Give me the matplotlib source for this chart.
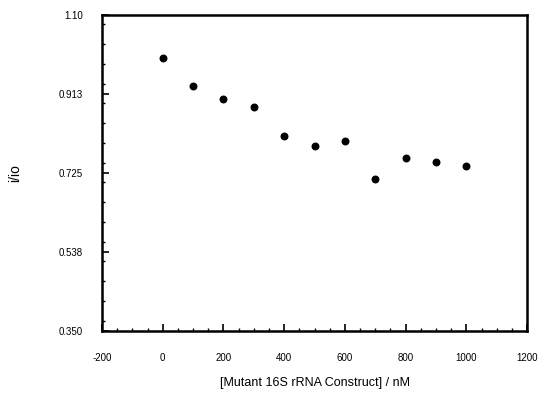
import numpy as np
import matplotlib
matplotlib.use("Agg")
from matplotlib import pyplot as plt
from matplotlib.ticker import MultipleLocator

# concentration (nM) vs relative intensity
conc = [0, 100, 200, 300, 400, 500, 600, 700, 800, 900, 1000]
ratio = [0.998, 0.932, 0.902, 0.881, 0.814, 0.790, 0.802, 0.711, 0.762, 0.751, 0.741]

x_ticks = [-200, 0, 200, 400, 600, 800, 1000, 1200]
y_ticks = [0.350, 0.538, 0.725, 0.913, 1.10]
y_labels = ["0.350", "0.538", "0.725", "0.913", "1.10"]

plt.rcParams['font.family'] = ['Liberation Sans', 'DejaVu Sans']
plt.rcParams['axes.unicode_minus'] = False

fig = plt.figure(figsize=(5.4, 3.97), dpi=100)
ax = fig.add_axes([0.189, 0.166, 0.787, 0.796])

ax.plot(conc, ratio, 'o', color='black', markersize=4.5, markeredgewidth=1.2)

ax.set_xlim(-200, 1200)
ax.set_ylim(0.350, 1.10)
ax.set_xticks(x_ticks)
ax.set_yticks(y_ticks)
ax.set_yticklabels(y_labels)
ax.xaxis.set_minor_locator(MultipleLocator(50))
ax.yaxis.set_minor_locator(MultipleLocator(0.046875))

ax.tick_params(which='both', direction='in', top=False, right=False, labelsize=7)
ax.tick_params(axis='x', pad=16)
ax.tick_params(axis='y', pad=14)
ax.tick_params(which='major', length=5, width=1.2)
ax.tick_params(which='minor', length=2.5, width=1)

for s in ax.spines.values():
    s.set_linewidth(1.8)

ax.set_xlabel("[Mutant 16S rRNA Construct] / nM", fontsize=9, labelpad=10)
ax.set_ylabel("i/io", fontsize=10, labelpad=26)

fig.savefig("out.png", dpi=100)
